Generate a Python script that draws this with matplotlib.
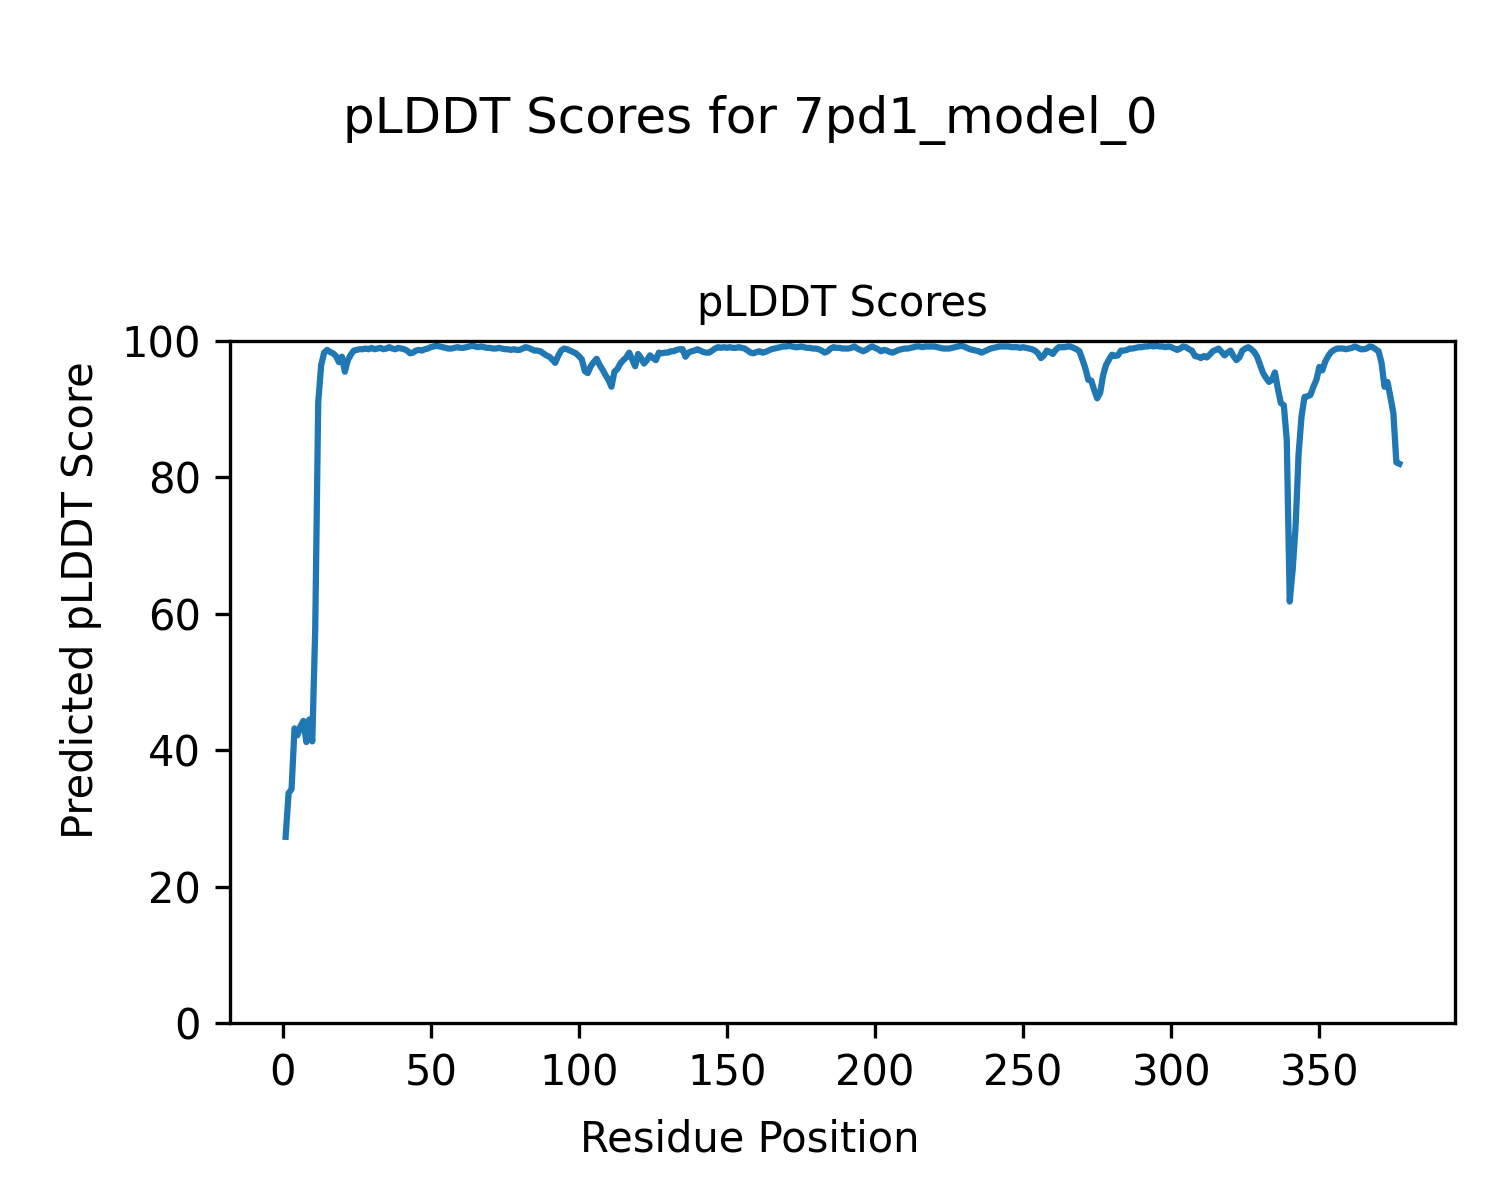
import numpy as np
import matplotlib
matplotlib.use("Agg")
import matplotlib.pyplot as plt

residues = list(range(1, 378))
plddt = [
    27.3, 33.7, 34.3, 43.2, 42.2, 43.5, 44.3, 41.2, 44.5, 41.3,
    58.0, 91.0, 96.5, 98.3, 98.7, 98.4, 98.2, 97.8, 96.9, 97.7,
    95.5, 97.2, 98.0, 98.6, 98.7, 98.8, 98.8, 98.9, 98.8, 99.0,
    98.8, 98.9, 99.0, 98.8, 98.9, 99.1, 98.9, 98.8, 99.0, 98.9,
    98.8, 98.6, 98.2, 98.3, 98.6, 98.7, 98.6, 98.8, 98.9, 99.1,
    99.2, 99.3, 99.2, 99.1, 99.0, 98.9, 98.9, 99.0, 99.1, 99.0,
    99.0, 99.1, 99.2, 99.3, 99.2, 99.1, 99.2, 99.1, 99.0, 99.0,
    98.9, 98.9, 99.0, 98.9, 98.8, 98.8, 98.7, 98.8, 98.7, 98.7,
    98.9, 99.1, 99.0, 98.8, 98.6, 98.6, 98.5, 98.2, 97.9, 97.7,
    97.3, 96.8, 97.8, 98.6, 98.9, 98.8, 98.6, 98.4, 98.2, 97.8,
    97.3, 95.6, 95.3, 96.3, 96.9, 97.4, 96.5, 95.8, 95.0, 94.3,
    93.3, 95.5, 95.9, 96.7, 97.2, 97.6, 98.3, 97.3, 96.3, 98.1,
    97.5, 96.7, 97.2, 97.9, 97.5, 97.2, 98.3, 98.2, 98.3, 98.3,
    98.5, 98.5, 98.7, 98.8, 98.8, 97.7, 98.3, 98.5, 98.6, 98.8,
    98.6, 98.4, 98.3, 98.3, 98.6, 98.9, 99.1, 99.0, 99.1, 99.0,
    99.1, 99.0, 99.0, 99.1, 99.0, 98.9, 98.6, 98.3, 98.2, 98.4,
    98.5, 98.3, 98.4, 98.6, 98.8, 98.9, 99.0, 99.1, 99.2, 99.2,
    99.3, 99.2, 99.1, 99.1, 99.2, 99.1, 99.0, 99.0, 98.9, 98.9,
    98.8, 98.6, 98.3, 98.5, 98.9, 99.1, 99.0, 99.0, 98.9, 98.9,
    98.9, 99.0, 99.2, 98.9, 98.7, 98.5, 98.7, 99.0, 99.2, 99.0,
    98.8, 98.5, 98.7, 98.6, 98.4, 98.3, 98.5, 98.7, 98.8, 98.9,
    98.9, 99.0, 99.1, 99.2, 99.2, 99.1, 99.2, 99.2, 99.2, 99.2,
    99.1, 99.0, 98.9, 98.9, 98.9, 99.0, 99.1, 99.2, 99.3, 99.2,
    99.0, 98.8, 98.7, 98.6, 98.5, 98.3, 98.5, 98.7, 98.9, 99.0,
    99.1, 99.2, 99.2, 99.2, 99.2, 99.1, 99.1, 99.1, 99.0, 99.1,
    99.0, 98.9, 98.8, 98.6, 98.2, 97.5, 97.9, 98.6, 98.4, 98.1,
    98.7, 99.1, 99.1, 99.1, 99.2, 99.2, 99.0, 98.8, 98.5, 97.3,
    96.0, 94.3, 94.2, 92.8, 91.6, 92.4, 95.0, 96.5, 97.3, 98.0,
    97.8, 97.9, 98.6, 98.6, 98.7, 98.9, 98.9, 99.0, 99.1, 99.1,
    99.2, 99.2, 99.3, 99.2, 99.3, 99.2, 99.2, 99.1, 99.2, 99.1,
    98.9, 98.7, 98.9, 99.2, 99.1, 98.8, 98.6, 97.8, 97.7, 97.5,
    97.8, 97.6, 98.0, 98.5, 98.7, 98.9, 98.4, 97.9, 98.3, 98.6,
    97.8, 97.2, 97.6, 98.6, 98.9, 99.1, 98.8, 98.4, 97.7, 96.5,
    95.3, 94.6, 94.0, 94.3, 95.4, 93.0, 90.9, 90.6, 85.5, 61.8,
    66.5, 73.0, 83.5, 89.0, 91.8, 91.9, 92.1, 93.3, 94.3, 96.2,
    95.7, 97.0, 97.8, 98.4, 98.7, 98.9, 98.9, 98.9, 98.8, 98.9,
    99.0, 99.2, 99.0, 98.8, 98.8, 98.9, 99.2, 99.1, 98.8, 98.5,
    96.8, 93.3, 94.0, 91.8, 89.4, 82.2, 82.0,
]

fig = plt.figure(figsize=(5, 4), dpi=300)
ax = fig.add_axes([0.1533, 0.1475, 0.8167, 0.5683])
ax.plot(residues, plddt, color="#1f77b4", linewidth=1.5)
ax.set_ylim(0, 100)
ax.set_title("pLDDT Scores", fontsize=10)
fig.text(0.5, 0.04, "Residue Position", ha="center")
fig.text(0.04, 0.5, "Predicted pLDDT Score", va="center", rotation="vertical")
fig.suptitle("pLDDT Scores for 7pd1_model_0", y=0.9, va="center", fontsize=12)
fig.savefig("out.png", dpi=300)
